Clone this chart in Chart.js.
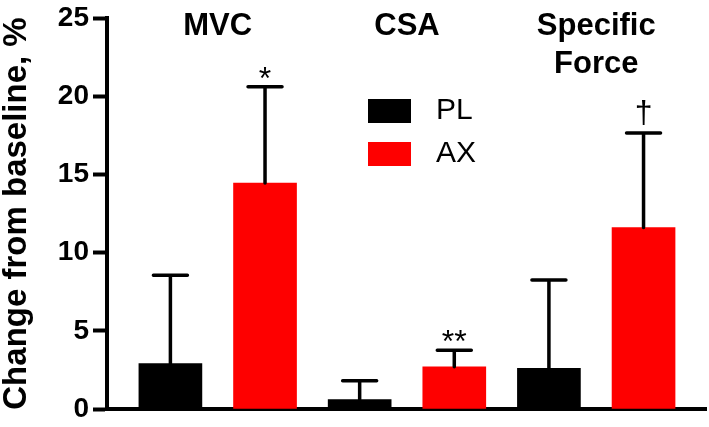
<!DOCTYPE html>
<html>
<head>
<meta charset="utf-8">
<script src="https://cdn.jsdelivr.net/npm/chart.js@4"></script>
<style>
  html, body { margin: 0; padding: 0; background: #fff; }
  #wrap { width: 709px; height: 427px; }
</style>
</head>
<body>
<div id="wrap"><canvas id="chart" width="709" height="427"></canvas></div>
<script>
const categories = ['MVC', 'CSA', ['Specific', 'Force']];
const plMean = [2.9, 0.6, 2.6];
const plSd = [5.65, 1.2, 5.65];
const axMean = [14.45, 2.7, 11.6];
const axSd = [6.15, 1.05, 6.05];
const axMarks = ['*', '**', '\u2020'];
const yTicks = [0, 5, 10, 15, 20, 25];

const FONT = '"Liberation Sans", Arial, sans-serif';
const RED = '#fe0000';

// each bar sits on its own slot: PL at 0,2,4 and AX at 1,3,5
const points = (arr, shift) => arr.map((v, i) => ({ x: i * 2 + shift, y: v }));

const overlay = {
  id: 'overlay',
  afterDatasetsDraw(chart) {
    const ctx = chart.ctx;
    const xs = chart.scales.x, ys = chart.scales.y;
    ctx.save();

    // error bars (upper only)
    ctx.strokeStyle = '#000';
    ctx.lineWidth = 3.5;
    ctx.lineCap = 'round';
    chart.data.datasets.forEach((ds) => {
      ds.data.forEach((pt, i) => {
        const px = xs.getPixelForValue(pt.x);
        const y0 = ys.getPixelForValue(pt.y);
        const y1 = ys.getPixelForValue(pt.y + ds.sd[i]);
        ctx.beginPath();
        ctx.moveTo(px, y0);
        ctx.lineTo(px, y1);
        ctx.moveTo(px - 17, y1);
        ctx.lineTo(px + 17, y1);
        ctx.stroke();
      });
    });

    // significance marks above AX bars
    ctx.fillStyle = '#000';
    ctx.font = `32px ${FONT}`;
    ctx.textAlign = 'center';
    ctx.textBaseline = 'alphabetic';
    axMean.forEach((v, i) => {
      const px = xs.getPixelForValue(i * 2 + 1);
      const yc = ys.getPixelForValue(v + axSd[i]);
      const m = ctx.measureText(axMarks[i]);
      ctx.fillText(axMarks[i], px, yc - 8 - m.actualBoundingBoxDescent);
    });

    // group titles
    ctx.font = `bold 31px ${FONT}`;
    categories.forEach((c, i) => {
      const px = (xs.getPixelForValue(i * 2) + xs.getPixelForValue(i * 2 + 1)) / 2;
      const lines = Array.isArray(c) ? c : [c];
      lines.forEach((t, k) => ctx.fillText(t, px, 35 + k * 38));
    });

    // legend
    ctx.textAlign = 'left';
    ctx.textBaseline = 'middle';
    ctx.font = `30px ${FONT}`;
    chart.data.datasets.forEach((ds, d) => {
      const top = 99 + d * 43;
      ctx.fillStyle = ds.backgroundColor;
      ctx.fillRect(368, top, 43, 24);
      ctx.fillStyle = '#000';
      ctx.fillText(ds.label, 436, top + 12);
    });

    ctx.restore();
  }
};

new Chart(document.getElementById('chart'), {
  type: 'bar',
  data: {
    datasets: [
      { label: 'PL', data: points(plMean, 0), sd: plSd, backgroundColor: '#000000' },
      { label: 'AX', data: points(axMean, 1), sd: axSd, backgroundColor: RED },
    ],
  },
  options: {
    responsive: false,
    animation: false,
    grouped: false,
    barThickness: 63,
    borderWidth: 0,
    layout: { padding: { top: 15, right: 3, left: 0, bottom: 0 } },
    plugins: { legend: { display: false }, tooltip: { enabled: false } },
    scales: {
      x: {
        type: 'linear',
        min: -0.67,
        max: 5.66,
        offset: false,
        z: 1,
        ticks: { display: false },
        grid: { display: false },
        border: { display: true, color: '#000', width: 4 },
        afterFit: (s) => { s.height = 14; },
      },
      y: {
        min: 0,
        max: 25,
        z: 1,
        afterBuildTicks: (s) => { s.ticks = yTicks.map((v) => ({ value: v })); },
        ticks: {
          color: '#000',
          padding: 4,
          font: { family: FONT, size: 28, weight: 'bold', lineHeight: 1 },
        },
        grid: { drawOnChartArea: false, drawTicks: true, tickLength: 14, tickWidth: 4, color: '#000' },
        border: { display: true, color: '#000', width: 4 },
        title: {
          display: true,
          text: 'Change from baseline, %',
          color: '#000',
          padding: 0,
          font: { family: FONT, size: 33, weight: 'bold', lineHeight: 1 },
        },
        afterFit: (s) => { s.width = 107; },
      },
    },
  },
  plugins: [overlay],
});
</script>
</body>
</html>
